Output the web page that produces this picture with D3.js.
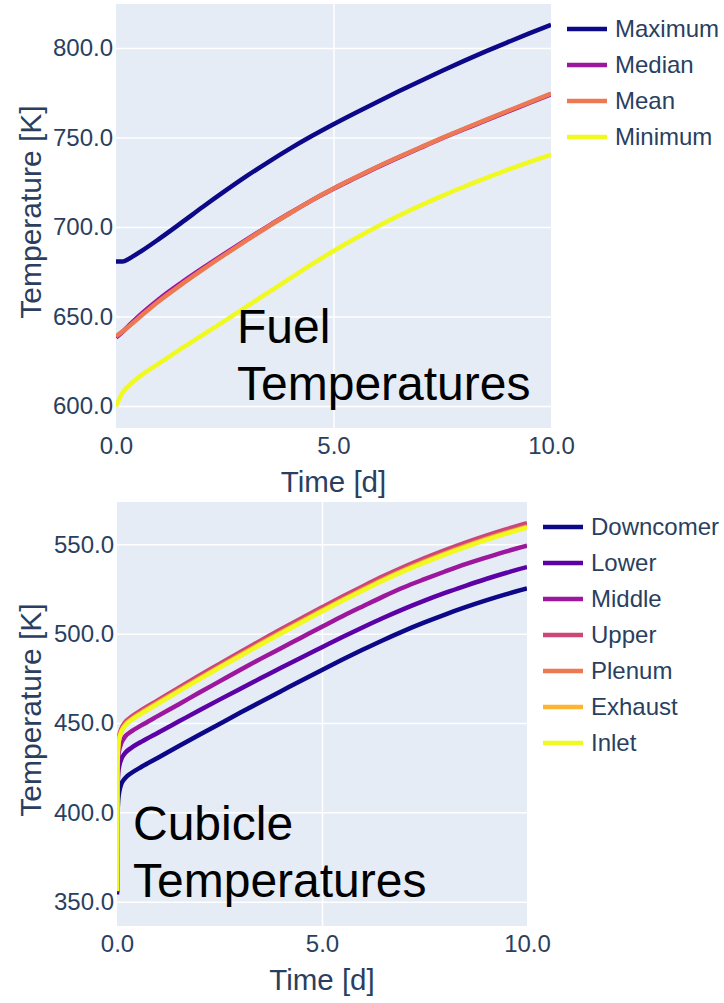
<!DOCTYPE html>
<html>
<head>
  <title>Fuel and Cubicle Temperatures</title>
  <script src="https://d3js.org/d3.v7.min.js"></script>
  <style>
    body { margin: 0; background: #fff; }
    svg text { font-family: "Liberation Sans", Arial, sans-serif; }
    .gridlines line { stroke: #fff; stroke-width: 1.5; }
    .gridlines .domain { stroke: none; }
    .ticks .domain, .ticks line { display: none; }
    .ticks text { fill: #2a3f5f; font-size: 24px; }
  </style>
</head>
<body>
<div id="chart"></div>
<script>
// ---- data ----
const xTicks = [0, 5, 10];

// fuel panel
const fuelTime = [0, 0.15, 0.3, 0.6, 1, 1.5, 2, 2.5, 3, 3.5, 4, 4.5, 5, 5.5, 6, 6.5, 7, 7.5, 8, 8.5, 9, 9.5, 10];
const fuelMaximum = [680.7, 680.7, 682.3, 686.8, 693.5, 702.3, 711.3, 720.0, 728.4, 736.3, 743.8, 750.8, 757.4, 763.7, 769.8, 775.8, 781.6, 787.3, 792.8, 798.1, 803.2, 808.2, 813.0];
const fuelMedian = [638.2, 641.4, 645.0, 651.8, 659.9, 668.8, 677.1, 685.1, 692.9, 700.5, 707.8, 714.9, 721.4, 727.4, 733.3, 738.9, 744.3, 749.6, 754.6, 759.6, 764.5, 769.3, 774.2];
const fuelMean = [639.0, 641.6, 644.5, 650.8, 658.8, 667.8, 676.3, 684.5, 692.5, 700.3, 707.7, 714.9, 721.5, 727.6, 733.5, 739.1, 744.5, 749.8, 754.9, 759.9, 764.8, 769.6, 774.5];
const fuelMinimum = [599.7, 607.5, 611.5, 617.5, 624.0, 632.0, 639.8, 647.6, 655.5, 663.4, 671.3, 679.1, 686.6, 693.6, 700.2, 706.3, 712.0, 717.4, 722.5, 727.3, 731.9, 736.2, 740.4];
const fuelNames = ["Maximum", "Median", "Mean", "Minimum"];
const fuelColors = ["#0d0887", "#9c179e", "#ed7953", "#f0f921"];
const fuelYTicks = [600, 650, 700, 750, 800];

// cubicle panel
const cubicleTime = [0, 0.01, 0.03, 0.06, 0.1, 0.2, 0.35, 0.6, 1, 1.5, 2, 2.5, 3, 3.5, 4, 4.5, 5, 5.5, 6, 6.5, 7, 7.5, 8, 8.5, 9, 9.5, 10];
const cubicleDowncomer = [354, 396, 407, 412, 415.5, 419.2, 422, 425.5, 430.6, 437.0, 443.3, 449.5, 455.7, 461.8, 467.8, 473.8, 479.7, 485.5, 491.1, 496.5, 501.6, 506.3, 510.7, 514.8, 518.6, 522.1, 525.3];
const cubicleLower = [355, 410, 422, 426.5, 429.5, 433.3, 436.1, 439.6, 444.6, 450.8, 457.0, 463.1, 469.1, 475.0, 480.9, 486.7, 492.4, 498.1, 503.6, 508.9, 513.9, 518.5, 522.8, 526.8, 530.6, 534.1, 537.3];
const cubicleMiddle = [355.5, 419, 431, 435.5, 438.5, 442.5, 445.3, 448.8, 454.0, 460.4, 466.9, 473.3, 479.7, 485.9, 491.9, 497.9, 503.9, 509.8, 515.4, 520.9, 526.0, 530.5, 534.8, 538.9, 542.6, 546.1, 549.3];
const cubicleUpper = [356.5, 427, 439, 443.5, 446.5, 450.5, 453.5, 457.3, 462.8, 469.7, 476.5, 483.1, 489.7, 496.1, 502.5, 508.7, 514.8, 520.8, 526.6, 532.2, 537.4, 542.3, 546.8, 551.0, 554.9, 558.5, 561.8];
const cubiclePlenum = [356.4, 425.8, 437.8, 442.3, 445.3, 449.3, 452.3, 456.1, 461.6, 468.4, 475.1, 481.7, 488.2, 494.6, 500.9, 507.1, 513.2, 519.2, 525.0, 530.6, 535.8, 540.6, 545.1, 549.3, 553.2, 556.8, 560.1];
const cubicleExhaust = [356.2, 425.4, 437.4, 441.9, 444.9, 448.9, 451.9, 455.7, 461.2, 468.0, 474.7, 481.3, 487.8, 494.2, 500.5, 506.7, 512.8, 518.8, 524.6, 530.2, 535.4, 540.2, 544.7, 548.9, 552.8, 556.4, 559.7];
const cubicleInlet = [356, 425, 437, 441.5, 444.5, 448.5, 451.5, 455.3, 460.8, 467.6, 474.3, 480.9, 487.4, 493.8, 500.1, 506.3, 512.4, 518.4, 524.2, 529.8, 535.0, 539.8, 544.3, 548.5, 552.4, 556.0, 559.3];
const cubicleNames = ["Downcomer", "Lower", "Middle", "Upper", "Plenum", "Exhaust", "Inlet"];
const cubicleColors = ["#0d0887", "#5c01a6", "#9c179e", "#cb4778", "#ed7953", "#fcb431", "#f0f921"];
const cubicleYTicks = [350, 400, 450, 500, 550];

// ---- page ----
const width = 724;
const height = 1003;

const svg = d3.select("#chart")
  .append("svg")
  .attr("width", width)
  .attr("height", height);

const panels = [
  {
    id: "fuel",
    left: 116, right: 551, top: 4, bottom: 428,
    yDomain: [587.7, 824.6],
    yTicks: fuelYTicks,
    time: fuelTime,
    series: [fuelMaximum, fuelMedian, fuelMean, fuelMinimum],
    names: fuelNames,
    colors: fuelColors,
    note: ["Fuel", "Temperatures"],
    noteX: 121, noteY: 339
  },
  {
    id: "cubicle",
    left: 117, right: 527, top: 502, bottom: 926,
    yDomain: [336.4, 573.7],
    yTicks: cubicleYTicks,
    time: cubicleTime,
    series: [cubicleDowncomer, cubicleLower, cubicleMiddle, cubicleUpper, cubiclePlenum, cubicleExhaust, cubicleInlet],
    names: cubicleNames,
    colors: cubicleColors,
    note: ["Cubicle", "Temperatures"],
    noteX: 16, noteY: 338
  }
];

panels.forEach(p => {
  const w = p.right - p.left;
  const h = p.bottom - p.top;

  const xScale = d3.scaleLinear().domain([0, 10]).range([0, w]);
  const yScale = d3.scaleLinear().domain(p.yDomain).range([h, 0]);

  const g = svg.append("g")
    .attr("transform", `translate(${p.left},${p.top})`);

  // plot background
  g.append("rect")
    .attr("width", w)
    .attr("height", h)
    .attr("fill", "#e5ecf6");

  // gridlines
  g.append("g")
    .attr("class", "gridlines")
    .call(d3.axisLeft(yScale).tickValues(p.yTicks).tickSize(-w).tickFormat(""));
  g.append("g")
    .attr("class", "gridlines")
    .attr("transform", `translate(0,${h})`)
    .call(d3.axisBottom(xScale).tickValues([5]).tickSize(-h).tickFormat(""));

  // tick labels
  g.append("g")
    .attr("class", "ticks")
    .call(d3.axisLeft(yScale).tickValues(p.yTicks).tickSize(0).tickPadding(3).tickFormat(d3.format(".1f")));
  g.append("g")
    .attr("class", "ticks")
    .attr("transform", `translate(0,${h})`)
    .call(d3.axisBottom(xScale).tickValues(xTicks).tickSize(0).tickPadding(9).tickFormat(d3.format(".1f")));

  // axis titles
  g.append("text")
    .attr("x", w / 2)
    .attr("y", h + 64)
    .attr("text-anchor", "middle")
    .attr("fill", "#2a3f5f")
    .attr("font-size", 29.5)
    .text("Time [d]");

  g.append("text")
    .attr("transform", `translate(${30 - p.left},${h / 2 - 4}) rotate(-90)`)
    .attr("text-anchor", "middle")
    .attr("dy", "0.35em")
    .attr("fill", "#2a3f5f")
    .attr("font-size", 30)
    .text("Temperature [K]");

  // lines
  g.append("clipPath")
    .attr("id", "clip-" + p.id)
    .append("rect")
    .attr("width", w)
    .attr("height", h);

  const line = d3.line()
    .x((d, i) => xScale(p.time[i]))
    .y(d => yScale(d))
    .curve(d3.curveMonotoneX);

  p.series.forEach((values, i) => {
    g.append("path")
      .attr("clip-path", `url(#clip-${p.id})`)
      .attr("d", line(values))
      .attr("fill", "none")
      .attr("stroke", p.colors[i])
      .attr("stroke-width", 4.5)
      .attr("stroke-linejoin", "round");
  });

  // annotation
  const note = g.append("text")
    .attr("x", p.noteX)
    .attr("y", p.noteY)
    .attr("font-size", 48)
    .attr("fill", "#000");
  p.note.forEach((t, i) => {
    note.append("tspan")
      .attr("x", p.noteX)
      .attr("dy", i === 0 ? 0 : 57)
      .text(t);
  });

  // legend
  const legend = g.append("g")
    .attr("transform", `translate(${w + 16},25)`);
  p.names.forEach((name, i) => {
    const row = legend.append("g").attr("transform", `translate(0,${i * 36})`);
    row.append("line")
      .attr("x1", 0).attr("x2", 40)
      .attr("stroke", p.colors[i])
      .attr("stroke-width", 4.5);
    row.append("text")
      .attr("x", 48)
      .attr("dy", "0.35em")
      .attr("font-size", 24)
      .attr("fill", "#2a3f5f")
      .text(name);
  });
});
</script>
</body>
</html>
